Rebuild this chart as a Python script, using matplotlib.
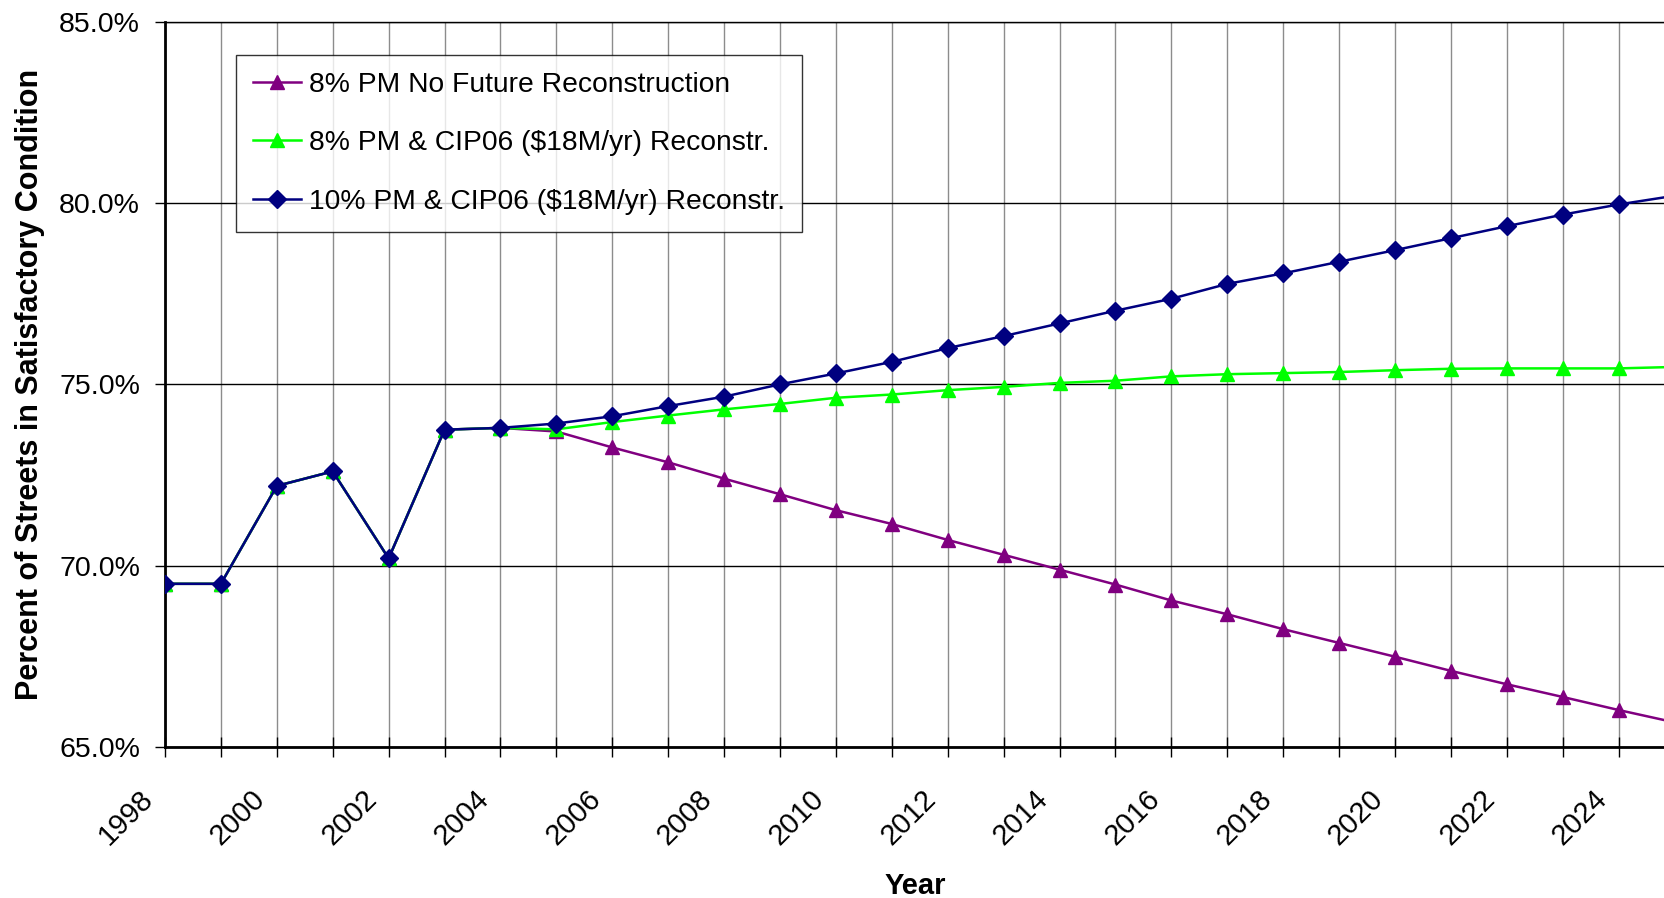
import matplotlib
matplotlib.use("Agg")
import matplotlib.pyplot as plt
from matplotlib.ticker import MultipleLocator, FuncFormatter
from matplotlib.transforms import ScaledTranslation

plt.rcParams['font.family'] = ['Liberation Sans', 'DejaVu Sans']

years = list(range(1998, 2026))

# shared history 1998-2004, then three scenarios
history = [69.5, 69.5, 72.2, 72.6, 70.2, 73.75, 73.8]
no_recon = history + [73.7, 73.26, 72.85, 72.4, 71.97, 71.53, 71.15, 70.71, 70.3,
                      69.89, 69.48, 69.04, 68.66, 68.25, 67.87, 67.49, 67.1, 66.73,
                      66.38, 66.02, 65.68]
pm8_cip = history + [73.76, 73.96, 74.14, 74.31, 74.46, 74.63, 74.72, 74.84, 74.93,
                     75.04, 75.1, 75.22, 75.28, 75.31, 75.34, 75.39, 75.43, 75.44,
                     75.44, 75.44, 75.48]
pm10_cip = history + [73.92, 74.12, 74.4, 74.66, 75.0, 75.3, 75.62, 76.0, 76.33,
                      76.68, 77.03, 77.36, 77.77, 78.06, 78.38, 78.7, 79.03, 79.36,
                      79.68, 79.96, 80.2]

labels = ["8% PM No Future Reconstruction",
          "8% PM & CIP06 ($18M/yr) Reconstr.",
          "10% PM & CIP06 ($18M/yr) Reconstr."]

fig = plt.figure(figsize=(16.65, 8.98), dpi=100)
ax = fig.add_axes([165 / 1665, 1 - 747 / 898, 1 - 165 / 1665, (747 - 21.7) / 898])

ax.plot(years, no_recon, color="#800080", lw=1.8, marker="^", ms=10, label=labels[0], zorder=3)
ax.plot(years, pm8_cip, color="#00FF00", lw=1.8, marker="^", ms=10, label=labels[1], zorder=4)
ax.plot(years, pm10_cip, color="#000080", lw=1.8, marker="D", ms=9, label=labels[2], zorder=5)

ax.set_xlim(1998, 2024.83)
ax.set_ylim(65, 85)
ax.xaxis.set_major_locator(MultipleLocator(2))
ax.xaxis.set_minor_locator(MultipleLocator(1))
ax.yaxis.set_major_locator(MultipleLocator(5))
ax.yaxis.set_major_formatter(FuncFormatter(lambda v, p: f"{v:.1f}%"))

ax.grid(True, axis="x", which="both", color="#8c8c8c", lw=1)
ax.grid(True, axis="y", which="major", color="black", lw=1)
ax.set_axisbelow(True)

ax.tick_params(axis="x", which="both", direction="inout", length=14, width=1, pad=27)
ax.tick_params(axis="y", direction="out", length=7, width=1, labelsize=20.5, pad=11)
ax.tick_params(axis="x", labelsize=21)
shift = ScaledTranslation(-0.16, 0, fig.dpi_scale_trans)
for t in ax.get_xticklabels():
    t.set_rotation(45)
    t.set_ha("right")
    t.set_va("center")
    t.set_rotation_mode("anchor")
    t.set_transform(t.get_transform() + shift)

for s in ["left", "bottom"]:
    ax.spines[s].set_linewidth(2)
ax.spines["top"].set_linewidth(1)
ax.spines["right"].set_visible(False)

ax.set_xlabel("Year", fontsize=21, fontweight="bold", labelpad=16)
ax.set_ylabel("Percent of Streets in Satisfactory Condition", fontsize=22,
              fontweight="bold", labelpad=10)

leg = ax.legend(loc="upper left", bbox_to_anchor=(236 / 1665, 1 - 55 / 898),
                bbox_transform=fig.transFigure, fontsize=20.3, frameon=True,
                fancybox=False, edgecolor="black", borderaxespad=0,
                handlelength=1.7, labelspacing=1.15, borderpad=0.6, handletextpad=0.3)
leg.get_frame().set_linewidth(1)
leg.set_zorder(10)

fig.savefig("out.png", dpi=100)
